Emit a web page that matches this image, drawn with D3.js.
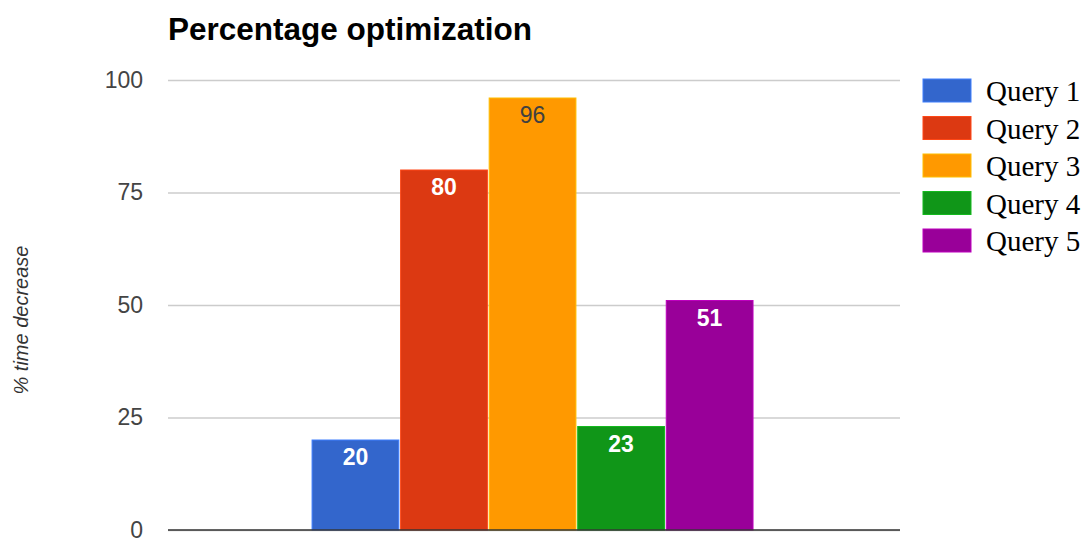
<!DOCTYPE html>
<html>
<head>
<meta charset="utf-8">
<script src="https://cdn.jsdelivr.net/npm/d3@7"></script>
<style>
  html, body { margin: 0; padding: 0; background: #fff; }
  svg { display: block; }
</style>
</head>
<body>
<svg id="chart" width="1090" height="540"></svg>
<script>
// Chart data
const categories = ["Queries"];
const seriesNames = ["Query 1", "Query 2", "Query 3", "Query 4", "Query 5"];
const seriesValues = [20, 80, 96, 23, 51];
const seriesColors = ["#3366cc", "#dc3912", "#ff9900", "#109618", "#990099"];
const labelColors = ["#ffffff", "#ffffff", "#404040", "#ffffff", "#ffffff"];
const yTicks = [0, 25, 50, 75, 100];
const titleText = "Percentage optimization";
const yAxisTitle = "% time decrease";

const svg = d3.select("#chart");
const plot = { left: 168, right: 900, top: 80, bottom: 530 };

const y = d3.scaleLinear().domain([0, 100]).range([plot.bottom, plot.top]);
const xOuter = d3.scaleBand().domain(categories).range([plot.left, plot.right])
  .paddingInner(0).paddingOuter(0.33).align(0.495);
const xInner = d3.scaleBand().domain(seriesNames).range([0, xOuter.bandwidth()])
  .paddingInner(0.02).paddingOuter(0);

// Title
svg.append("text")
  .attr("x", plot.left).attr("y", 40)
  .attr("font-family", "Arial, 'Liberation Sans', sans-serif")
  .attr("font-weight", "bold").attr("font-size", 31.5)
  .attr("fill", "#000")
  .text(titleText);

// Gridlines and tick labels
const yAxis = d3.axisLeft(y).tickValues(yTicks).tickSize(-(plot.right - plot.left)).tickPadding(25);
const gy = svg.append("g").attr("transform", `translate(${plot.left},0)`).call(yAxis);
gy.select(".domain").remove();
gy.selectAll(".tick line").attr("stroke", "#cccccc").attr("stroke-width", 1.5);
gy.selectAll(".tick text")
  .attr("font-family", "Arial, 'Liberation Sans', sans-serif")
  .attr("font-size", 23).attr("fill", "#444");

// Axis title
svg.append("text")
  .attr("transform", `translate(28,320) rotate(-90)`)
  .attr("text-anchor", "middle")
  .attr("font-family", "Arial, 'Liberation Sans', sans-serif")
  .attr("font-style", "italic").attr("font-size", 20).attr("fill", "#333")
  .text(yAxisTitle);

// Bars
const group = svg.append("g").attr("transform", `translate(${xOuter(categories[0])},0)`);
group.selectAll("rect").data(seriesValues).join("rect")
  .attr("x", (d, i) => xInner(seriesNames[i]))
  .attr("y", d => y(d))
  .attr("width", xInner.bandwidth())
  .attr("height", d => y(0) - y(d))
  .attr("fill", (d, i) => seriesColors[i])
  .attr("stroke", (d, i) => d3.color(seriesColors[i]).brighter(0.6))
  .attr("stroke-width", 1);

// Value labels inside bar tops
group.selectAll("text.val").data(seriesValues).join("text")
  .attr("class", "val")
  .attr("x", (d, i) => xInner(seriesNames[i]) + xInner.bandwidth() / 2)
  .attr("y", d => y(d) + 25)
  .attr("text-anchor", "middle")
  .attr("font-family", "Arial, 'Liberation Sans', sans-serif")
  .attr("font-size", 23)
  .attr("font-weight", (d, i) => labelColors[i] === "#ffffff" ? "bold" : "normal")
  .attr("fill", (d, i) => labelColors[i])
  .text(d => d);

// Baseline
svg.append("line")
  .attr("x1", plot.left).attr("x2", plot.right)
  .attr("y1", y(0)).attr("y2", y(0))
  .attr("stroke", "#333").attr("stroke-width", 1.5);

// Legend
const legend = svg.append("g").attr("transform", "translate(923,79)");
const items = legend.selectAll("g").data(seriesNames).join("g")
  .attr("transform", (d, i) => `translate(0,${i * 37.5})`);
items.append("rect")
  .attr("width", 48).attr("height", 23)
  .attr("fill", (d, i) => seriesColors[i])
  .attr("stroke", (d, i) => d3.color(seriesColors[i]).brighter(0.6))
  .attr("stroke-width", 1);
items.append("text")
  .attr("x", 63).attr("y", 22)
  .attr("font-family", "'Liberation Serif', 'Times New Roman', serif")
  .attr("font-size", 29).attr("fill", "#000")
  .text(d => d);
</script>
</body>
</html>
